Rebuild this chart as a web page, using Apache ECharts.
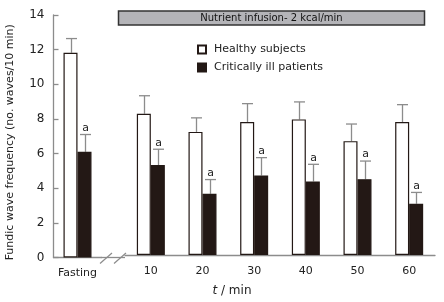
<!DOCTYPE html>
<html><head><meta charset="utf-8">
<script src="https://cdn.jsdelivr.net/npm/echarts@6/dist/echarts.min.js"></script>
<style>html,body{margin:0;padding:0;background:#fff}#c{width:444px;height:302px}</style>
</head><body><div id="c"></div>
<script>
const fastingCategory = ['Fasting'];
const timeCategories = ['10', '20', '30', '40', '50', '60'];
const healthyFasting = [11.82];
const healthyFastingSD = [0.82];
const illFasting = [6.1];
const illFastingSD = [1.0];
const healthy = [8.24, 7.18, 7.76, 7.91, 6.64, 7.76];
const healthySD = [1.05, 0.82, 1.07, 1.02, 1.0, 1.01];
const ill = [5.25, 3.57, 4.64, 4.29, 4.42, 2.99];
const illSD = [0.92, 0.83, 1.04, 1.0, 1.06, 0.66];
const yTicks = [0, 2, 4, 6, 8, 10, 12, 14];
const sigMark = 'a';
const bannerText = 'Nutrient infusion- 2 kcal/min';
const yTitle = 'Fundic wave frequency (no. waves/10 min)';

const FONT = 'DejaVu Sans';
const AXIS = '#8c8c8c';
const DARK = '#231815';
const BW = 14;

function errSeries(name, gridIdx, vals, sds, offset, mark) {
  return {
    type: 'custom', name: name + '_err', xAxisIndex: gridIdx, yAxisIndex: gridIdx, silent: true, z: 1,
    data: vals.map((v, i) => [i, v, v + sds[i]]),
    renderItem: function (params, api) {
      const p0 = api.coord([api.value(0), api.value(1)]);
      const p1 = api.coord([api.value(0), api.value(2)]);
      const x = Math.round(p0[0] + offset) + 0.5;
      const children = [
        {type: 'line', shape: {x1: x, y1: p0[1], x2: x, y2: p1[1]}, style: {stroke: AXIS, lineWidth: 1.3}},
        {type: 'line', shape: {x1: x - 5.5, y1: p1[1], x2: x + 5.5, y2: p1[1]}, style: {stroke: AXIS, lineWidth: 1.3}}
      ];
      if (mark) {
        children.push({type: 'text', style: {text: mark, x: x, y: p1[1] - 1, align: 'center', verticalAlign: 'bottom', font: '11px ' + FONT, fill: '#222'}});
      }
      return {type: 'group', children: children};
    }
  };
}

function barSeries(name, gridIdx, vals, fill) {
  return {
    type: 'bar', name: name, xAxisIndex: gridIdx, yAxisIndex: gridIdx, data: vals,
    barWidth: BW, barGap: '0%', z: 2,
    itemStyle: {color: fill, borderColor: DARK, borderWidth: 1.2}
  };
}

const chart = echarts.init(document.getElementById('c'), null, {renderer: 'canvas'});
const yAxisBase = {
  type: 'value', min: 0, max: 14, interval: 2,
  splitLine: {show: false}
};
chart.setOption({
  animation: false,
  backgroundColor: '#fff',
  textStyle: {fontFamily: FONT},
  grid: [
    {left: 53.5, top: 15, width: 48, bottom: 44.5},
    {left: 125, top: 15, right: 9, bottom: 44.5}
  ],
  legend: {
    orient: 'vertical', left: 192, top: 39, itemWidth: 8, itemHeight: 8, itemGap: 7,
    icon: 'rect',
    data: ['Healthy subjects', 'Critically ill patients'],
    textStyle: {fontSize: 11, fontFamily: FONT, color: '#222', padding: [0, 0, 0, 3]}
  },
  xAxis: [
    {type: 'category', gridIndex: 0, data: fastingCategory,
     axisLine: {lineStyle: {color: AXIS, width: 1.3}}, axisTick: {show: false},
     axisLabel: {fontSize: 11, color: '#222', fontFamily: FONT, margin: 10}},
    {type: 'category', gridIndex: 1, data: timeCategories,
     axisLine: {lineStyle: {color: AXIS, width: 1.3}}, axisTick: {show: false},
     axisLabel: {fontSize: 11, color: '#222', fontFamily: FONT, margin: 11},
     name: '{i|t} / min', nameLocation: 'middle', nameGap: 30,
     nameTextStyle: {fontSize: 12, color: '#222', fontFamily: FONT, padding: [0, 0, 0, -96],
       rich: {i: {fontStyle: 'italic', fontSize: 12, fontFamily: FONT, color: '#222'}}}}
  ],
  yAxis: [
    Object.assign({}, yAxisBase, {gridIndex: 0,
      axisLine: {show: true, lineStyle: {color: AXIS, width: 1.3}},
      axisTick: {show: true, inside: true, length: 5, lineStyle: {color: AXIS, width: 1.3}},
      axisLabel: {fontSize: 12, color: '#222', fontFamily: FONT, margin: 9},
      name: yTitle, nameLocation: 'middle', nameGap: 38,
      nameTextStyle: {fontSize: 11, color: '#222', fontFamily: FONT, padding: [0, 0, 0, -12]}}),
    Object.assign({}, yAxisBase, {gridIndex: 1, show: false})
  ],
  series: [
    barSeries('Healthy subjects', 0, healthyFasting, '#fff'),
    barSeries('Critically ill patients', 0, illFasting, DARK),
    barSeries('Healthy subjects', 1, healthy, '#fff'),
    barSeries('Critically ill patients', 1, ill, DARK),
    errSeries('hf', 0, healthyFasting, healthyFastingSD, -BW / 2, null),
    errSeries('if', 0, illFasting, illFastingSD, BW / 2, sigMark),
    errSeries('h', 1, healthy, healthySD, -BW / 2, null),
    errSeries('i', 1, ill, illSD, BW / 2, sigMark)
  ],
  graphic: [
    {type: 'rect', shape: {x: 118.5, y: 11, width: 306, height: 14},
     style: {fill: '#b4b4b8', stroke: '#333', lineWidth: 1.5}, z: 10},
    {type: 'text', style: {text: bannerText, x: 271.5, y: 18.5, align: 'center', verticalAlign: 'middle',
     font: '10px ' + FONT, fill: '#111'}, z: 11},
    {type: 'line', shape: {x1: 101, y1: 257.5, x2: 125, y2: 257.5}, style: {stroke: AXIS, lineWidth: 1.3}, z: 10},
    {type: 'line', shape: {x1: 100, y1: 263.5, x2: 112, y2: 253}, style: {stroke: AXIS, lineWidth: 1.2}, z: 10},
    {type: 'line', shape: {x1: 114, y1: 263.5, x2: 126, y2: 253}, style: {stroke: AXIS, lineWidth: 1.2}, z: 10}
  ]
});
</script></body></html>
